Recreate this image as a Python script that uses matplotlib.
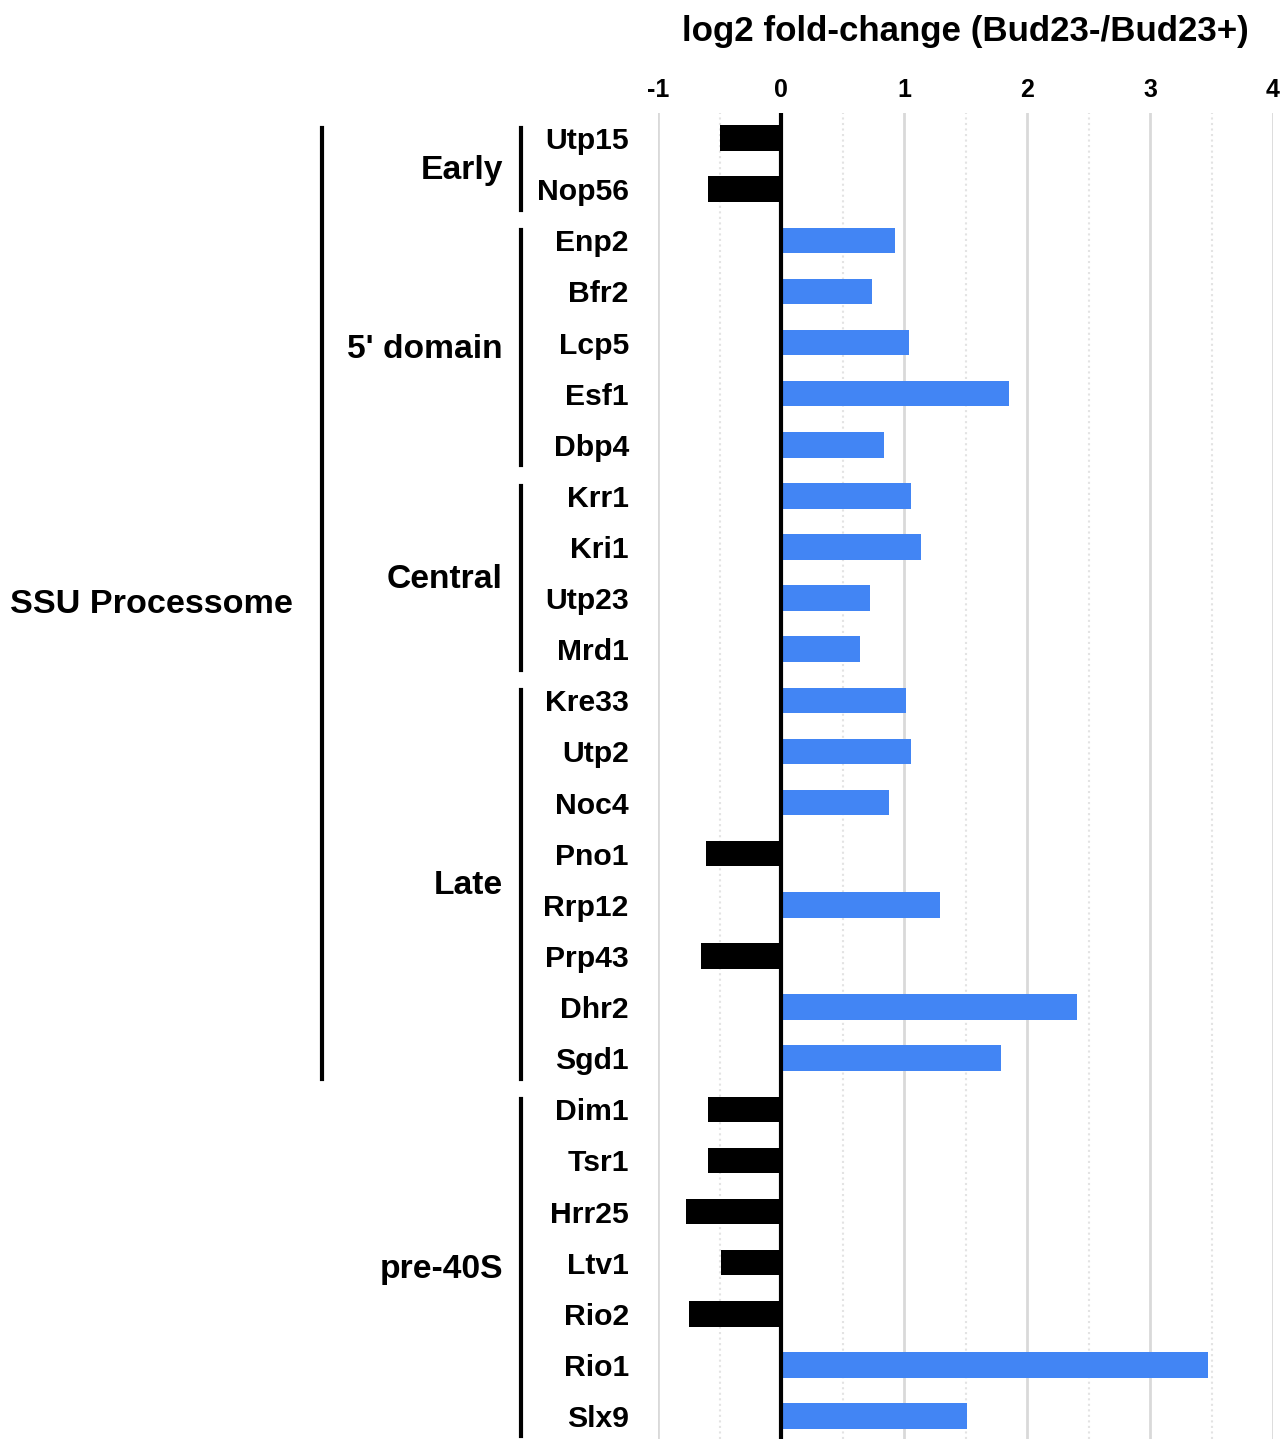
import matplotlib.pyplot as plt
from matplotlib.transforms import blended_transform_factory

genes = ["Utp15", "Nop56", "Enp2", "Bfr2", "Lcp5", "Esf1", "Dbp4", "Krr1", "Kri1",
         "Utp23", "Mrd1", "Kre33", "Utp2", "Noc4", "Pno1", "Rrp12", "Prp43", "Dhr2",
         "Sgd1", "Dim1", "Tsr1", "Hrr25", "Ltv1", "Rio2", "Rio1", "Slx9"]
log2fc = [-0.50, -0.59, 0.93, 0.74, 1.04, 1.85, 0.84, 1.06, 1.14,
          0.72, 0.64, 1.02, 1.06, 0.88, -0.61, 1.29, -0.65, 2.41,
          1.79, -0.59, -0.59, -0.77, -0.49, -0.75, 3.47, 1.51]
groups = ["Early", "5' domain", "Central", "Late", "pre-40S"]
group_sizes = [2, 5, 4, 8, 7]
super_group = "SSU Processome"
super_size = 19  # first 19 genes
xticks = [-1, 0, 1, 2, 3, 4]

plt.rcParams['font.family'] = ['Liberation Sans', 'DejaVu Sans']
plt.rcParams['font.weight'] = 'bold'

fig = plt.figure(figsize=(12.85, 14.39), dpi=100)
ax = fig.add_axes([658 / 1285, 0, 615 / 1285, 1 - 113 / 1439])

ys = list(range(len(genes)))
colors = ['#4285f4' if v > 0 else 'black' for v in log2fc]
ax.barh(ys, log2fc, height=0.5, color=colors, zorder=3)
ax.axvline(0, color='black', lw=3, zorder=4)

ax.set_xlim(-1, 4)
ax.set_ylim(25.45, -0.49)
ax.set_xticks(xticks)
ax.set_xticklabels([str(t) for t in xticks], fontsize=18, fontweight='bold')
ax.set_xticks([-0.5, 0.5, 1.5, 2.5, 3.5], minor=True)
ax.xaxis.tick_top()
ax.tick_params(axis='x', which='both', length=0, pad=8)
ax.grid(axis='x', which='major', color='#d9d9d9', lw=2, zorder=0)
ax.grid(axis='x', which='minor', color='#e3e3e3', lw=1.5, ls=':', zorder=0)
ax.set_yticks(ys)
ax.set_yticklabels(genes, fontsize=21.7, fontweight='bold')
ax.tick_params(axis='y', length=0, pad=21)
for s in ax.spines.values():
    s.set_visible(False)

fig.text((658 + 1273) / 2 / 1285, 1 - 32 / 1439, "log2 fold-change (Bud23-/Bud23+)",
         ha='center', va='center', fontsize=25.1, fontweight='bold')

tr = blended_transform_factory(fig.transFigure, ax.transData)
start = 0
for name, n in zip(groups, group_sizes):
    top = start - 0.2
    bot = start + n - 1 + 0.4
    ax.plot([521 / 1285] * 2, [top, bot], color='black', lw=3, transform=tr, clip_on=False)
    ax.text(503 / 1285, start + (n - 1) / 2 + 0.13, name, transform=tr, ha='right', va='center',
            fontsize=24.2, fontweight='bold')
    start += n

ax.plot([322 / 1285] * 2, [-0.2, super_size - 1 + 0.4], color='black', lw=3, transform=tr,
        clip_on=False)
ax.text(293 / 1285, (super_size - 1) / 2 + 0.13, super_group, transform=tr, ha='right',
        va='center', fontsize=24.6, fontweight='bold')

fig.savefig("out.png", dpi=100)
